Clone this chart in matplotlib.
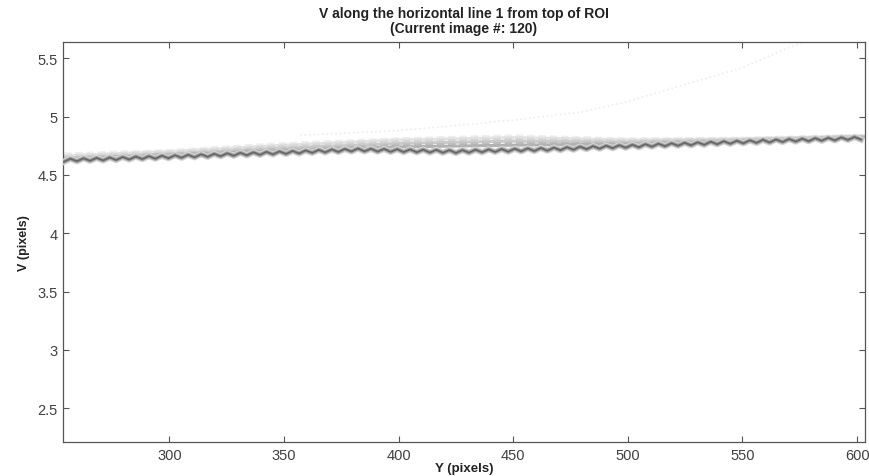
import numpy as np
import matplotlib
matplotlib.use("Agg")
import matplotlib.pyplot as plt
from matplotlib import font_manager
from matplotlib.ticker import FuncFormatter

names = {f.name for f in font_manager.fontManager.ttflist}
narrow = 'Liberation Sans Narrow' if 'Liberation Sans Narrow' in names else 'Liberation Sans'
plt.rcParams['font.family'] = [narrow, 'Liberation Sans', 'DejaVu Sans']

# ---- data ----
# dark line, sampled at every half ripple (start 254, step 2.85 px)
y_start, y_step = 254.0, 2.85
v_dark = [
    4.613, 4.639, 4.617, 4.643, 4.621, 4.646, 4.624, 4.650, 4.628, 4.654,
    4.632, 4.658, 4.636, 4.661, 4.639, 4.665, 4.643, 4.669, 4.647, 4.673,
    4.651, 4.677, 4.655, 4.681, 4.660, 4.686, 4.664, 4.690, 4.668, 4.694,
    4.672, 4.698, 4.676, 4.702, 4.680, 4.706, 4.684, 4.710, 4.689, 4.715,
    4.693, 4.719, 4.697, 4.723, 4.701, 4.727, 4.702, 4.725, 4.700, 4.723,
    4.698, 4.721, 4.696, 4.719, 4.694, 4.717, 4.692, 4.715, 4.690, 4.713,
    4.688, 4.713, 4.691, 4.716, 4.694, 4.719, 4.697, 4.722, 4.699, 4.725,
    4.702, 4.728, 4.705, 4.731, 4.708, 4.734, 4.712, 4.738, 4.716, 4.743,
    4.721, 4.747, 4.725, 4.751, 4.729, 4.755, 4.733, 4.759, 4.737, 4.764,
    4.742, 4.768, 4.746, 4.772, 4.750, 4.776, 4.754, 4.780, 4.758, 4.785,
    4.763, 4.789, 4.767, 4.793, 4.771, 4.797, 4.775, 4.801, 4.778, 4.804,
    4.782, 4.808, 4.786, 4.811, 4.789, 4.815, 4.793, 4.818, 4.796, 4.822,
    4.800, 4.825, 4.803,
]

# lighter frames (older images), coarse knots
y_knots = [254, 300, 350, 400, 450, 500, 550, 603]
v_light = [
    [4.680, 4.710, 4.770, 4.810, 4.835, 4.810, 4.815, 4.840],
    [4.665, 4.700, 4.755, 4.800, 4.820, 4.800, 4.810, 4.835],
    [4.655, 4.690, 4.745, 4.785, 4.805, 4.790, 4.805, 4.830],
    [4.645, 4.680, 4.730, 4.770, 4.790, 4.780, 4.800, 4.830],
    [4.640, 4.675, 4.720, 4.755, 4.770, 4.770, 4.795, 4.825],
    [4.635, 4.670, 4.710, 4.740, 4.755, 4.765, 4.790, 4.820],
]
light_colors = ['#eeeeee', '#e2e2e2', '#d6d6d6', '#cacaca', '#bebebe', '#b2b2b2']

# faint stray line rising towards the top right
y_stray = [357, 400, 423, 450, 480, 500, 524, 550, 570, 580]
v_stray = [4.84, 4.88, 4.92, 4.97, 5.04, 5.13, 5.27, 5.42, 5.59, 5.66]

y_dark = y_start + y_step * np.arange(len(v_dark))

fig = plt.figure(figsize=(8.69, 4.77), dpi=100)
ax = fig.add_axes([0.0725, 0.0713, 0.9225, 0.8386])

ax.plot(y_stray, v_stray, ':', color='#ececec', lw=1.2, zorder=1)

for i, (vals, col) in enumerate(zip(v_light, light_colors)):
    ls = (0, (2.5, 1.2)) if i % 2 == 0 else '-'
    ax.plot(y_knots, vals, linestyle=ls, color=col, lw=2.2, zorder=2)

# blurred dark band
ax.plot(y_dark, v_dark, color='#d4d4d4', lw=4.5, zorder=3)
ax.plot(y_dark, v_dark, color='#a4a4a4', lw=2.8, zorder=4)
ax.plot(y_dark, v_dark, color='#686868', lw=1.3, zorder=5)

ax.set_xlim(253.6, 603.3)
ax.set_ylim(2.21, 5.64)
ax.set_xticks([300, 350, 400, 450, 500, 550, 600])
ax.set_yticks([2.5, 3, 3.5, 4, 4.5, 5, 5.5])
ax.yaxis.set_major_formatter(FuncFormatter(lambda v, p: f"{v:g}"))

ax.tick_params(direction='in', length=4, width=0.8, top=True, right=True,
               labelsize=10.5, labelcolor='#404040', color='#555555', pad=4)
for s in ax.spines.values():
    s.set_color('#555555')
    s.set_linewidth(0.9)

ax.set_title("V along the horizontal line 1 from top of ROI\n(Current image #: 120)",
             fontsize=10, fontweight='bold', color='#222222', linespacing=1.1, pad=7)
ax.set_xlabel("Y (pixels)", fontsize=9.5, fontweight='bold', color='#222222', labelpad=0)
ax.set_ylabel("V (pixels)", fontsize=9, fontweight='bold', color='#222222', labelpad=5)

fig.savefig("out.png", dpi=100, facecolor='white')
